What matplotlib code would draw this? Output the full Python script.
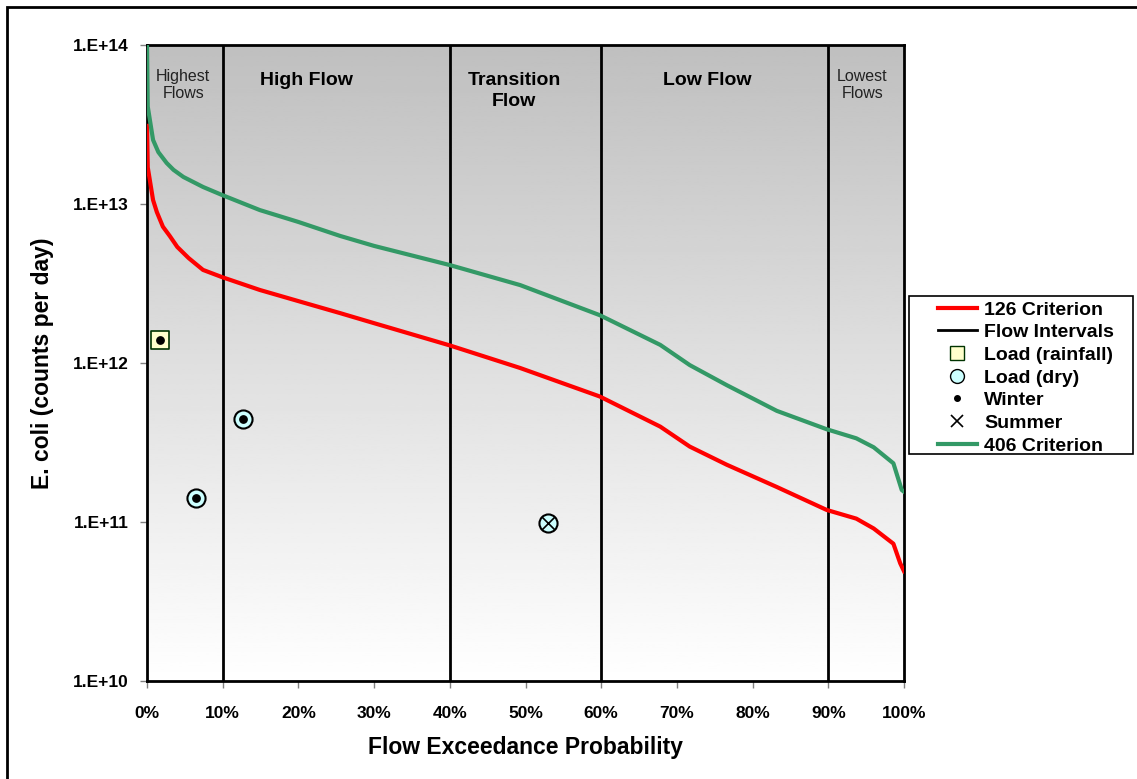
import os
import numpy as np
import matplotlib
matplotlib.use("Agg")
import matplotlib.pyplot as plt
import matplotlib.font_manager as fm
from matplotlib.lines import Line2D
from matplotlib.patches import Rectangle
from matplotlib.ticker import FixedLocator, FuncFormatter

# Load duration curves (flow exceedance %, counts/day)
pct_126 = [0, 0.1, 0.8, 1.3, 2.1, 3.0, 4.0, 5.5, 7.4, 9.9, 14.9, 20.0, 25.5, 30.0,
           40.0, 49.3, 59.8, 67.8, 71.7, 76.6, 83.2, 89.8, 93.7, 96.0, 98.6, 99.5, 100]
load_126 = [3.1e13, 1.7e13, 1.06e13, 8.9e12, 7.2e12, 6.3e12, 5.37e12, 4.57e12,
            3.85e12, 3.47e12, 2.88e12, 2.45e12, 2.06e12, 1.78e12, 1.29e12, 9.3e11,
            6.16e11, 3.98e11, 2.98e11, 2.29e11, 1.66e11, 1.19e11, 1.05e11, 9.1e10,
            7.3e10, 5.5e10, 4.9e10]

pct_406 = [0, 0.1, 0.8, 1.5, 2.6, 3.5, 4.8, 7.4, 9.9, 14.9, 20.0, 25.5, 30.0, 40.0,
           49.3, 59.8, 67.8, 71.7, 76.6, 83.2, 89.8, 93.7, 96.0, 98.6, 99.7, 100]
load_406 = [1.0e14, 4.1e13, 2.53e13, 2.12e13, 1.81e13, 1.64e13, 1.48e13, 1.28e13,
            1.14e13, 9.16e12, 7.71e12, 6.3e12, 5.45e12, 4.13e12, 3.09e12, 2.0e12,
            1.30e12, 9.7e11, 7.25e11, 5.0e11, 3.83e11, 3.36e11, 2.95e11, 2.34e11,
            1.59e11, 1.55e11]

# Observed loads
rain_pct = [1.7]
rain_load = [1.4e12]
dry_pct = [6.5, 12.7, 53.0]
dry_load = [1.42e11, 4.45e11, 9.9e10]
winter_pct = [1.7, 6.5, 12.7]
winter_load = [1.4e12, 1.42e11, 4.45e11]
summer_pct = [53.0]
summer_load = [9.9e10]

interval_bounds = [10, 40, 60, 90]
zone_names = ["Highest\nFlows", "High Flow", "Transition\nFlow", "Low Flow", "Lowest\nFlows"]
zone_x = [4.8, 21, 48.5, 74, 94.5]
zone_bold = [False, True, True, True, False]


def font_file(name):
    for f in fm.findSystemFonts():
        if os.path.basename(f) == name:
            return f
    return None


reg_path = font_file("LiberationSans-Regular.ttf")
bold_path = font_file("LiberationSans-Bold.ttf")


def fp(size, bold=True):
    path = bold_path if bold else reg_path
    if path:
        return fm.FontProperties(fname=path, size=size)
    return fm.FontProperties(family="DejaVu Sans", size=size,
                             weight="bold" if bold else "normal")


fig = plt.figure(figsize=(11.37, 7.79), dpi=100)
ax = fig.add_axes([147 / 1137, 1 - 681 / 779, 757 / 1137, 636 / 779])
ax.set_yscale("log")
ax.set_xlim(0, 100)
ax.set_ylim(1e10, 1e14)

# gray (top) to white (bottom) background
grad = np.linspace(0.75, 1.0, 256).reshape(-1, 1)
ax.imshow(grad, cmap="gray", vmin=0, vmax=1, aspect="auto",
          extent=[0, 1, 0, 1], transform=ax.transAxes, zorder=0)

for b in interval_bounds:
    ax.axvline(b, color="black", lw=2, zorder=2)

ax.plot(pct_126, load_126, color="#ff0000", lw=3, zorder=3)
ax.plot(pct_406, load_406, color="#339966", lw=3, zorder=3)

ax.scatter(rain_pct, rain_load, marker="s", s=165, facecolor="#ffffcc",
           edgecolor="#003300", lw=1.2, zorder=4)
ax.scatter(dry_pct, dry_load, marker="o", s=170, facecolor="#ccffff",
           edgecolor="black", lw=1.5, zorder=4)
ax.scatter(winter_pct, winter_load, marker="o", s=28, color="black", zorder=5)
ax.scatter(summer_pct, summer_load, marker="x", s=80, color="black", lw=1.2, zorder=5)

for name, zx, bold in zip(zone_names, zone_x, zone_bold):
    if bold:
        ax.text(zx, 0.957, name, transform=ax.get_xaxis_transform(), ha="center",
                va="top", fontproperties=fp(14), linespacing=1.3)
    else:
        ax.text(zx, 0.962, name, transform=ax.get_xaxis_transform(), ha="center",
                va="top", color="#222222", fontproperties=fp(11.5, bold=False),
                linespacing=1.12)

ax.xaxis.set_major_locator(FixedLocator(range(0, 101, 10)))
ax.xaxis.set_major_formatter(FuncFormatter(lambda v, p: f"{int(v)}%"))
ax.yaxis.set_major_locator(FixedLocator([1e10, 1e11, 1e12, 1e13, 1e14]))
ax.yaxis.set_minor_locator(FixedLocator([]))
ax.yaxis.set_major_formatter(FuncFormatter(lambda v, p: f"1.E+{int(round(np.log10(v)))}"))
ax.tick_params(axis="both", direction="out", length=5, width=1, color="#808080")
ax.tick_params(axis="y", pad=8)
ax.tick_params(axis="x", pad=13)
for lab in ax.get_xticklabels() + ax.get_yticklabels():
    lab.set_fontproperties(fp(12.5))
for sp in ax.spines.values():
    sp.set_linewidth(2)
    sp.set_color("black")

ax.set_xlabel("Flow Exceedance Probability", fontproperties=fp(16.5), labelpad=11)
ax.set_ylabel("E. coli (counts per day)", fontproperties=fp(16.5), labelpad=14)

handles = [
    Line2D([], [], color="#ff0000", lw=3),
    Line2D([], [], color="black", lw=2),
    Line2D([], [], ls="none", marker="s", ms=10, mfc="#ffffcc", mec="#003300"),
    Line2D([], [], ls="none", marker="o", ms=10, mfc="#ccffff", mec="black"),
    Line2D([], [], ls="none", marker="o", ms=4, color="black"),
    Line2D([], [], ls="none", marker="x", ms=9, color="black", mew=1.2),
    Line2D([], [], color="#339966", lw=3),
]
labels = ["126 Criterion", "Flow Intervals", "Load (rainfall)", "Load (dry)",
          "Winter", "Summer", "406 Criterion"]
leg = fig.legend(handles, labels, loc="upper left",
                 bbox_to_anchor=(938 / 1137, 1 - 301 / 779),
                 frameon=False, prop=fp(14),
                 handlelength=2.0, handletextpad=0.36, labelspacing=0.26,
                 borderpad=0, borderaxespad=0)

# legend box
fig.patches.append(Rectangle((909 / 1137, 1 - 454 / 779), 224 / 1137, 158 / 779,
                             transform=fig.transFigure, fill=False,
                             edgecolor="black", lw=1.2))

# outer chart border
fig.patches.append(Rectangle((7 / 1137, -0.05), 1.2, 1 - 7 / 779 + 0.05,
                             transform=fig.transFigure, fill=False,
                             edgecolor="black", lw=2))

fig.savefig("out.png", dpi=100)
